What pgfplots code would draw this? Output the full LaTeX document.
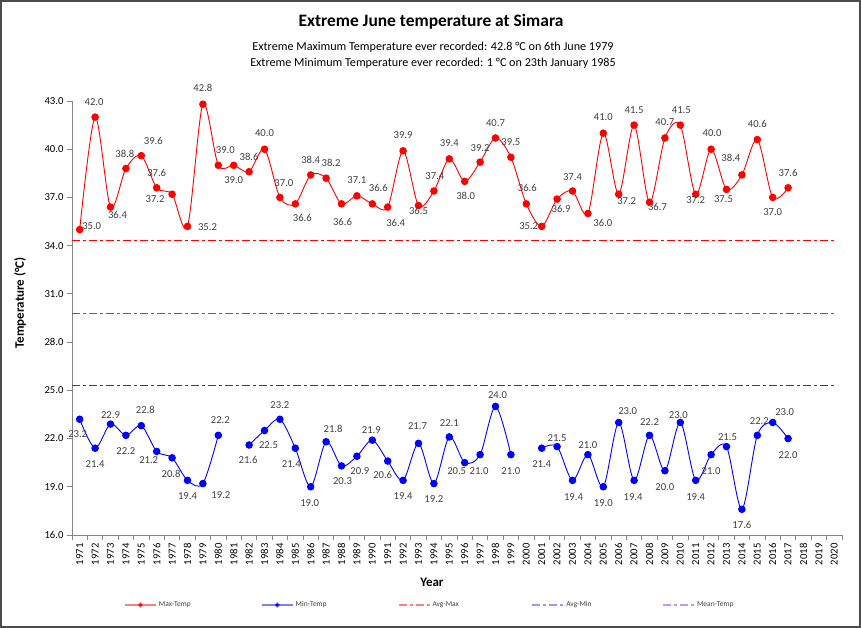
\documentclass[border=0pt]{standalone}
\usepackage{fontspec}
\setmainfont{Carlito}
\usepackage{pgfplots}
\pgfplotsset{compat=1.18}
\usepackage{pgfplotstable}

\definecolor{maxred}{RGB}{255,0,0}
\definecolor{minblue}{RGB}{0,0,255}
\definecolor{avgblue}{RGB}{45,45,255}
\definecolor{meanpurple}{RGB}{115,60,245}
\definecolor{lblgray}{RGB}{64,64,64}
\definecolor{axgray}{RGB}{134,134,134}

% year, value, label text, label offset (dx, dy) in bp
\pgfplotstableread{
year t lbl dx dy
1971 35.0 35.0 12 4
1972 42.0 42.0 -1 15
1973 36.4 36.4 7 -8
1974 38.8 38.8 -1 15
1975 39.6 39.6 12 15
1976 37.6 37.6 0 15
1977 37.2 37.2 -17 -5
1978 35.2 35.2 20 -1
1979 42.8 42.8 0 16
1980 39.0 39.0 7 15
1981 39.0 39.0 0 -15
1982 38.6 38.6 0 15
1983 40.0 40.0 0 16
1984 37.0 37.0 4 14
1985 36.6 36.6 7 -14
1986 38.4 38.4 0 15
1987 38.2 38.2 5 15
1988 36.6 36.6 1 -18
1989 37.1 37.1 0 16
1990 36.6 36.6 6 16
1991 36.4 36.4 8 -16
1992 39.9 39.9 0 16
1993 36.5 36.5 0 -5
1994 37.4 37.4 1 15
1995 39.4 39.4 0 16
1996 38.0 38.0 1 -15
1997 39.2 39.2 0 14
1998 40.7 40.7 0 15
1999 39.5 39.5 0 15
2000 36.6 36.6 1 16
2001 35.2 35.2 -13 0
2002 36.9 36.9 4 -10
2003 37.4 37.4 0 14
2004 36.0 36.0 15 -9
2005 41.0 41.0 0 16
2006 37.2 37.2 8 -7
2007 41.5 41.5 0 15
2008 36.7 36.7 8 -5
2009 40.7 40.7 0 16
2010 41.5 41.5 1 15
2011 37.2 37.2 0 -6
2012 40.0 40.0 1 16
2013 37.5 37.5 -3 -10
2014 38.4 38.4 -11 17
2015 40.6 40.6 0 16
2016 37.0 37.0 0 -15
2017 37.6 37.6 0 15
}\maxdata

\pgfplotstableread{
year t lbl dx dy
1971 23.2 23.2 -2 -15
1972 21.4 21.4 0 -16
1973 22.9 22.9 0 9
1974 22.2 22.2 0 -16
1975 22.8 22.8 4 16
1976 21.2 21.2 -8 -9
1977 20.8 20.8 -1 -16
1978 19.4 19.4 0 -16
1979 19.2 19.2 18 -12
1980 22.2 22.2 2 15
1981 nan x 0 0
1982 21.6 21.6 -1 -15
1983 22.5 22.5 4 -15
1984 23.2 23.2 0 14
1985 21.4 21.4 -4 -16
1986 19.0 19.0 -1 -16
1987 21.8 21.8 7 13
1988 20.3 20.3 1 -15
1989 20.9 20.9 3 -15
1990 21.9 21.9 -1 10
1991 20.6 20.6 -5 -14
1992 19.4 19.4 0 -16
1993 21.7 21.7 -1 17
1994 19.2 19.2 0 -16
1995 22.1 22.1 0 14
1996 20.5 20.5 -8 -8
1997 21.0 21.0 -1 -16
1998 24.0 24.0 2 11
1999 21.0 21.0 0 -16
2000 nan x 0 0
2001 21.4 21.4 0 -16
2002 21.5 21.5 0 9
2003 19.4 19.4 1 -17
2004 21.0 21.0 0 10
2005 19.0 19.0 0 -16
2006 23.0 23.0 9 11
2007 19.4 19.4 -1 -17
2008 22.2 22.2 0 13
2009 20.0 20.0 0 -16
2010 23.0 23.0 -2 7
2011 19.4 19.4 0 -17
2012 21.0 21.0 0 -16
2013 21.5 21.5 1 10
2014 17.6 17.6 0 -16
2015 22.2 22.2 2 14
2016 23.0 23.0 12 10
2017 22.0 22.0 0 -17
}\mindata

\pgfplotsset{
  labelled/.style={
    line width=0.9bp, smooth, mark=*, mark size=3.3bp,
    mark options={solid, fill=#1, draw=#1},
    nodes near coords, point meta=explicit symbolic,
    visualization depends on={1.00375*\thisrow{dx} \as \ldx},
    visualization depends on={1.00375*\thisrow{dy} \as \ldy},
    every node near coord/.append style={anchor=center, inner sep=0pt,
      xshift=\ldx, yshift=\ldy, text=lblgray,
      font=\fontsize{10.7}{12}\selectfont},
  },
  avgline/.style={color=#1, line width=1.3bp, dash pattern=on 8bp off 3bp on 3bp off 3bp},
}

\begin{document}
\begin{tikzpicture}
\useasboundingbox (0,0) rectangle (861bp,628bp);
\draw[line width=1.2bp, draw=black!70] (1bp,1bp) rectangle (860bp,627bp);

\node[font=\fontsize{17.5}{20}\selectfont\bfseries] at (431bp,606bp) {Extreme June temperature at Simara};
\node[font=\fontsize{12.2}{14}\selectfont] at (433bp,581bp) {Extreme Maximum Temperature ever recorded: 42.8 °C on 6th June 1979};
\node[font=\fontsize{12.2}{14}\selectfont] at (433bp,565bp) {Extreme Minimum Temperature ever recorded: 1 °C on 23th January 1985};

\begin{axis}[
  at={(72bp,93bp)}, anchor=south west,
  scale only axis, width=770bp, height=434bp,
  xmin=1970.5, xmax=2020.5, ymin=16, ymax=43,
  clip=false,
  axis lines*=left,
  axis line style={draw=axgray, line width=0.8bp, -},
  tick align=outside,
  major tick length=5bp, minor tick length=5bp,
  xtick={1971,...,2020},
  minor xtick={1970.5,1971.5,...,2020.5},
  major x tick style={draw=none},
  minor x tick style={draw=axgray, line width=0.8bp},
  ytick={16,19,...,43},
  ytick style={draw=axgray, line width=0.8bp},
  /pgf/number format/assume math mode=true,
  xticklabel style={rotate=90, anchor=east, font=\fontsize{10.7}{12}\selectfont,
    /pgf/number format/1000 sep={}},
  yticklabel style={font=\fontsize{10.7}{12}\selectfont,
    /pgf/number format/fixed, /pgf/number format/fixed zerofill,
    /pgf/number format/precision=1},
  xlabel={Year},
  xlabel style={at={(axis description cs:0.4675,-0.108)}, anchor=center,
    font=\fontsize{13}{15}\selectfont\bfseries},
  ylabel={Temperature (°C)},
  ylabel style={at={(axis description cs:-0.0675,0.535)}, anchor=center,
    font=\fontsize{13}{15}\selectfont\bfseries},
  unbounded coords=jump,
  legend columns=5,
  legend cell align=left,
  legend style={at={(axis description cs:0.0636,-0.1613)}, anchor=west,
    draw=none, fill=none, text=lblgray, font=\fontsize{7.5}{9}\selectfont,
    /tikz/every even column/.append style={column sep=0pt}},
  legend image code/.code={
    \draw[mark repeat=2, mark phase=2, #1, line width=1.8bp, draw opacity=0.5, mark size=1.6bp]
      plot coordinates {(0bp,0bp) (15.5bp,0bp) (31bp,0bp)};
  },
]
% average lines first, so that the labelled series are drawn over them
\addplot[avgline=maxred, forget plot] coordinates {(1970.5,34.3) (2020,34.3)};
\addplot[avgline=avgblue, forget plot] coordinates {(1970.5,25.3) (2020,25.3)};
\addplot[avgline=meanpurple, forget plot] coordinates {(1970.5,29.8) (2020,29.8)};

\addplot[maxred, labelled=maxred] table[x=year, y=t, meta=lbl] {\maxdata};
\addlegendentry{\makebox[100bp][l]{Max-Temp}}
\addplot[minblue, labelled=minblue] table[x=year, y=t, meta=lbl] {\mindata};
\addlegendentry{\makebox[100bp][l]{Min-Temp}}
\addlegendimage{avgline=maxred}
\addlegendentry{\makebox[97bp][l]{Avg-Max}}
\addlegendimage{avgline=avgblue}
\addlegendentry{\makebox[94bp][l]{Avg-Min}}
\addlegendimage{avgline=meanpurple}
\addlegendentry{Mean-Temp}
\end{axis}
\end{tikzpicture}
\end{document}
